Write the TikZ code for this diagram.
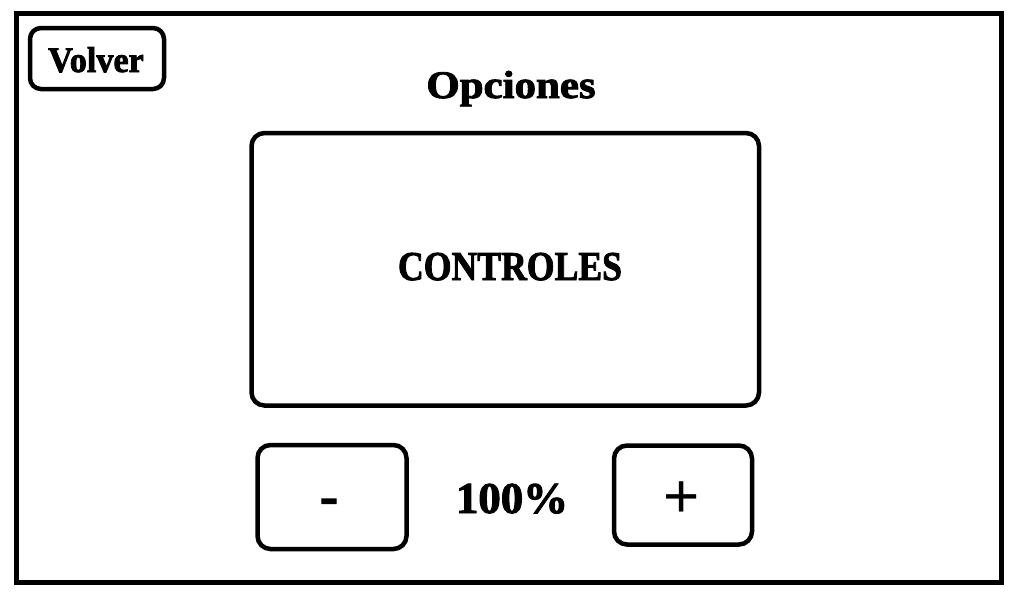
\documentclass[tikz,border=0pt]{standalone}
\usepackage{fontspec}
\newfontfamily\hfont[FakeBold=2.2]{Liberation Serif Bold}
\newfontfamily\sfplus{Liberation Sans}
\begin{document}
\begin{tikzpicture}[x=1pt,y=-1pt,
  frame/.style={draw=black,line width=5pt},
  btn/.style={draw=black,line width=4.5pt,rounded corners=13pt},
  lbl/.style={anchor=base,inner sep=0pt,text=black}]
\useasboundingbox (0,0) rectangle (1019,598);
\fill[white] (0,0) rectangle (1019,598);
\draw[frame] (16.5,13.5) rectangle (1001.5,582.5);
\draw[btn,rounded corners=11pt] (30,28) rectangle (164,89);
\draw[btn] (251.5,133) rectangle (759,405.5);
\draw[btn] (257.5,445) rectangle (406.5,549);
\draw[btn] (614,445.5) rectangle (752,544.5);
\node[lbl] (volver) at (96,72) {\hfont\fontsize{36}{38}\selectfont\scalebox{0.95}[1]{Volver}};
\node[lbl] (opciones) at (511,98) {\hfont\fontsize{39}{41}\selectfont\scalebox{1.1}[1]{Opciones}};
\node[lbl] (controles) at (510,280) {\hfont\fontsize{41}{43}\selectfont\scalebox{0.87}[1]{CONTROLES}};
\node[lbl] (pct) at (512,513) {\hfont\fontsize{44}{46}\selectfont\scalebox{1.02}[1]{100\%}};
\node[lbl] (minus) at (329,514) {\hfont\fontsize{54}{56}\selectfont -};
\node[lbl] (plus) at (682,517) {\sfplus\fontsize{62}{64}\selectfont +};
\end{tikzpicture}
\end{document}
